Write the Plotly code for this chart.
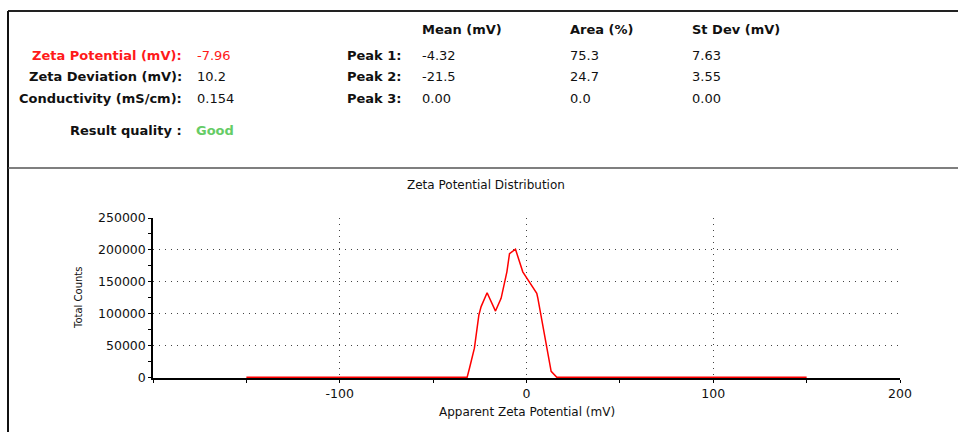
import plotly.graph_objects as go

# ---- data ----
zeta_mv = [-150, -31.8, -30.5, -27.9, -25.5, -24.3, -21.1, -16.6, -13.6, -10.5, -9.1,
           -5.9, -2.0, 0.7, 5.5, 6.1, 8.75, 11.4, 13.2, 16.25, 150]
total_counts = [0, 0, 14600, 45800, 97900, 111000, 132800, 104000, 124000, 165600, 194000,
                201000, 165600, 153600, 131800, 124000, 79700, 35400, 9400, 0, 0]

summary_labels = ["Zeta Potential (mV):", "Zeta Deviation (mV):", "Conductivity (mS/cm):"]
summary_values = ["-7.96", "10.2", "0.154"]
peak_labels = ["Peak 1:", "Peak 2:", "Peak 3:"]
peak_headers = ["Mean (mV)", "Area (%)", "St Dev (mV)"]
peak_mean = ["-4.32", "-21.5", "0.00"]
peak_area = ["75.3", "24.7", "0.0"]
peak_sd = ["7.63", "3.55", "0.00"]
x_tickvals = [-100, 0, 100, 200]
x_ticktext = ["-100", "0", "100", "200"]
y_tickvals = [0, 50000, 100000, 150000, 200000, 250000]

W, H = 958, 432
FONT = "DejaVu Sans"
Y_RANGE = [-1000, 250000]


def px(x):
    return x / W


def py(y):
    return 1 - y / H


fig = go.Figure()
fig.add_trace(go.Scatter(x=zeta_mv, y=total_counts, mode="lines",
                         line=dict(color="#ff0000", width=1.5), showlegend=False,
                         hoverinfo="skip"))

grid = dict(gridcolor="#444444", griddash="1px,5px", gridwidth=1)
fig.update_layout(
    template="none",
    width=W, height=H, margin=dict(l=0, r=0, t=0, b=0, pad=0, autoexpand=False),
    paper_bgcolor="white", plot_bgcolor="white",
    font=dict(family=FONT, color="#111111", size=12),
    xaxis=dict(domain=[px(153), px(900)], range=[-200, 200], tickvals=x_tickvals,
               ticktext=x_ticktext, automargin=False,
               showline=True, linecolor="black", linewidth=1.5, layer="below traces",
               ticks="outside", ticklen=3, tickcolor="black", tickwidth=1,
               minor=dict(ticks="outside", ticklen=3, tickcolor="black", dtick=50, tick0=-150, showgrid=False),
               zeroline=False, tickfont=dict(size=12.5, family=FONT),
               **grid),
    yaxis=dict(domain=[54 / H, 214 / H], range=Y_RANGE, tickvals=y_tickvals,
               automargin=False,
               showline=True, linecolor="black", linewidth=1.5, layer="below traces",
               ticks="outside", ticklen=3, tickcolor="black", tickwidth=1,
               minor=dict(ticks="outside", ticklen=3, tickcolor="black", dtick=25000, showgrid=False),
               zeroline=False, tickfont=dict(size=12.5, family=FONT), tickformat="d",
               **grid),
    xaxis2=dict(overlaying="x", anchor="y", domain=[px(153), px(900)], range=[-200, 200],
                automargin=False,
                tickvals=x_tickvals, showticklabels=False, showgrid=False, zeroline=False,
                ticks="inside", ticklen=3, tickcolor="black",
                minor=dict(ticks="inside", ticklen=3, tickcolor="black", dtick=50, tick0=-150)),
    yaxis2=dict(overlaying="y", anchor="x", range=Y_RANGE, tickvals=y_tickvals,
                automargin=False,
                showticklabels=False, showgrid=False, zeroline=False,
                ticks="inside", ticklen=3, tickcolor="black",
                minor=dict(ticks="inside", ticklen=3, tickcolor="black", dtick=25000)),
)

# frame shapes
shapes = [
    dict(type="line", xref="paper", yref="paper", x0=px(8), x1=1, y0=py(11), y1=py(11),
         line=dict(color="#222222", width=2)),
    dict(type="line", xref="paper", yref="paper", x0=px(8), x1=px(8), y0=py(11), y1=0,
         line=dict(color="#111111", width=2)),
    dict(type="line", xref="paper", yref="paper", x0=px(8), x1=1, y0=py(168), y1=py(168),
         line=dict(color="#555555", width=1.5)),
]
fig.update_layout(shapes=shapes)

ann = []


def text(x, y, s, anchor="left", size=13, bold=False, color="#111111", angle=0):
    t = f"<b>{s}</b>" if bold else s
    ann.append(dict(x=px(x), y=py(y), xref="paper", yref="paper", text=t, showarrow=False,
                    xanchor=anchor, yanchor="middle", textangle=angle,
                    font=dict(family=FONT, size=size, color=color)))


rows_y = [55, 77, 99]
for i, (lab, val) in enumerate(zip(summary_labels, summary_values)):
    col = "#ff1a1a" if i == 0 else "#111111"
    text(184, rows_y[i], lab, anchor="right", bold=True, color=col)
    text(195, rows_y[i], val, color=col)
text(184, 130, "Result quality :", anchor="right", bold=True)
text(194, 131, "Good", bold=True, color="#66cc66")

header_x = [420, 568, 690]
for hx, h in zip(header_x, peak_headers):
    text(hx, 30, h, bold=True)
for i in range(3):
    text(345, rows_y[i], peak_labels[i], bold=True)
    text(420, rows_y[i], peak_mean[i])
    text(568, rows_y[i], peak_area[i])
    text(690, rows_y[i], peak_sd[i])

text(486, 185, "Zeta Potential Distribution", anchor="center", size=12)
text(527, 412, "Apparent Zeta Potential (mV)", anchor="center", size=12)
text(78, 298, "Total Counts", anchor="center", size=10, angle=-90)
fig.update_layout(annotations=ann)

post = (
    "document.documentElement.style.margin='0';"
    "document.documentElement.style.overflow='hidden';"
    "document.body.style.margin='0';document.body.style.padding='0';"
    "document.body.style.overflow='hidden';"
    "var gd=document.getElementById('{plot_id}');"
    "gd.style.position='fixed';gd.style.top='0px';gd.style.left='0px';"
)
fig.write_html("out.html", config={"displayModeBar": False}, post_script=post)
